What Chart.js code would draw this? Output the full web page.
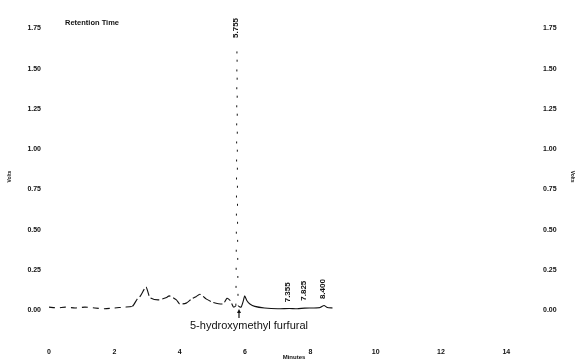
<!DOCTYPE html>
<html>
<head>
<meta charset="utf-8">
<script src="https://cdn.jsdelivr.net/npm/chart.js@4"></script>
<style>
    html, body { margin: 0; padding: 0; background: #fff; }
    #wrap { width: 577px; height: 361px; position: relative; }
</style>
</head>
<body>
<div id="wrap"><canvas id="chromatogram"></canvas></div>
<script>
// chromatogram trace
const retentionMinutes = [0, 0.25, 0.5, 0.8, 1.1, 1.4, 1.7, 2.0, 2.3, 2.55, 2.7, 2.8, 2.97, 3.09, 3.34, 3.6, 3.68, 3.9, 4.0, 4.2, 4.36, 4.5, 4.62, 4.82, 5.02, 5.33, 5.45, 5.55, 5.65, 5.72, 5.755, 5.79, 5.88, 5.95, 5.99, 6.06, 6.15, 6.3, 6.6, 7.0, 7.355, 7.6, 7.825, 8.1, 8.3, 8.42, 8.52, 8.68];
const detectorVolts    = [0.02, 0.015, 0.02, 0.015, 0.02, 0.015, 0.01, 0.015, 0.02, 0.025, 0.07, 0.09, 0.145, 0.08, 0.065, 0.08, 0.09, 0.065, 0.04, 0.045, 0.07, 0.085, 0.10, 0.07, 0.05, 0.04, 0.075, 0.06, 0.02, 0.03, 1.63, 0.03, 0.02, 0.06, 0.09, 0.06, 0.04, 0.025, 0.015, 0.01, 0.012, 0.01, 0.014, 0.015, 0.018, 0.03, 0.018, 0.015];

const peakTimes = [5.755, 7.355, 7.825, 8.4];
const peakLabels = ['5.755', '7.355', '7.825', '8.400'];
const peakLabelVolts = [1.69, 0.05, 0.06, 0.07];

const minuteTicks = [0, 2, 4, 6, 8, 10, 12, 14];
const voltTicks = [0, 0.25, 0.5, 0.75, 1.0, 1.25, 1.5, 1.75];

const compoundName = '5-hydroxymethyl furfural';
const compoundTime = 5.755;

const tickFont = { family: 'Liberation Sans', size: 7, weight: 'bold' };

const annotations = {
    id: 'annotations',
    afterDatasetsDraw(chart) {
        const ctx = chart.ctx;
        const x = chart.scales.x;
        const y = chart.scales.y;
        ctx.save();
        ctx.fillStyle = '#111';

        // peak retention times, rotated
        ctx.font = 'bold 8px "Liberation Sans"';
        ctx.textAlign = 'left';
        ctx.textBaseline = 'middle';
        peakTimes.forEach((t, i) => {
            ctx.save();
            ctx.translate(x.getPixelForValue(t) - 1, y.getPixelForValue(peakLabelVolts[i]));
            ctx.rotate(-Math.PI / 2);
            ctx.fillText(peakLabels[i], 0, 0);
            ctx.restore();
        });

        ctx.font = 'bold 7.5px "Liberation Sans"';
        ctx.textBaseline = 'middle';
        ctx.fillText('Retention Time', 65, 23);

        // compound name + arrow
        const ax = x.getPixelForValue(compoundTime) + 2;
        ctx.font = '11px "Liberation Sans"';
        ctx.textAlign = 'center';
        ctx.fillText(compoundName, 249, 326);
        ctx.strokeStyle = '#111';
        ctx.lineWidth = 1.2;
        ctx.beginPath();
        ctx.moveTo(ax, 318);
        ctx.lineTo(ax, 311);
        ctx.stroke();
        ctx.beginPath();
        ctx.moveTo(ax, 309);
        ctx.lineTo(ax - 2, 313);
        ctx.lineTo(ax + 2, 313);
        ctx.closePath();
        ctx.fill();
        ctx.restore();
    }
};

// the scan is patchy: main peak shows only as specks, the early trace is broken
function dashFor(seg) {
    const dy = Math.abs(seg.p1.parsed.y - seg.p0.parsed.y);
    if (dy > 0.3) return [2, 16];
    if (seg.p1.parsed.x <= 2.6) return [6, 5];
    if (seg.p1.parsed.x <= 5.7) return [9, 3];
    return undefined;
}

function widthFor(seg) {
    const dy = Math.abs(seg.p1.parsed.y - seg.p0.parsed.y);
    return dy > 0.3 ? 1 : 1.1;
}

new Chart(document.getElementById('chromatogram'), {
    type: 'line',
    data: {
        datasets: [{
            data: retentionMinutes.map((t, i) => ({ x: t, y: detectorVolts[i] })),
            borderColor: '#111',
            borderWidth: 1.1,
            pointRadius: 0,
            tension: 0.2,
            fill: false,
            segment: { borderDash: dashFor, borderWidth: widthFor }
        }]
    },
    options: {
        responsive: true,
        maintainAspectRatio: false,
        animation: false,
        layout: { padding: { top: 5, left: 0, right: 0, bottom: 0 } },
        plugins: { legend: { display: false }, tooltip: { enabled: false } },
        scales: {
            x: {
                type: 'linear',
                min: 0,
                max: 15,
                border: { display: false },
                grid: { display: false, drawTicks: false },
                afterBuildTicks: s => { s.ticks = minuteTicks.map(v => ({ value: v })); },
                afterFit: s => { s.height = 20; },
                ticks: { font: tickFont, color: '#111', padding: 7, maxRotation: 0 },
                title: { display: true, text: 'Minutes', font: { family: 'Liberation Sans', size: 6, weight: 'bold' }, color: '#111', padding: 0 }
            },
            y: {
                position: 'left',
                min: -0.19,
                max: 1.85,
                border: { display: false },
                grid: { display: false, drawTicks: false },
                afterBuildTicks: s => { s.ticks = voltTicks.map(v => ({ value: v })); },
                afterFit: s => { s.width = 49; },
                ticks: { font: tickFont, color: '#111', padding: 8, callback: v => v.toFixed(2) },
                title: { display: true, text: 'Volts', font: { family: 'Liberation Sans', size: 5, weight: 'bold' }, color: '#111', padding: { top: 7, bottom: 0 } }
            },
            y2: {
                position: 'right',
                min: -0.19,
                max: 1.85,
                border: { display: false },
                grid: { display: false, drawTicks: false },
                afterBuildTicks: s => { s.ticks = voltTicks.map(v => ({ value: v })); },
                afterFit: s => { s.width = 38; },
                ticks: { font: tickFont, color: '#111', padding: 4, callback: v => v.toFixed(2) },
                title: { display: true, text: 'Volts', font: { family: 'Liberation Sans', size: 5, weight: 'bold' }, color: '#111', padding: { top: 2, bottom: 0 } }
            }
        }
    },
    plugins: [annotations]
});
</script>
</body>
</html>
